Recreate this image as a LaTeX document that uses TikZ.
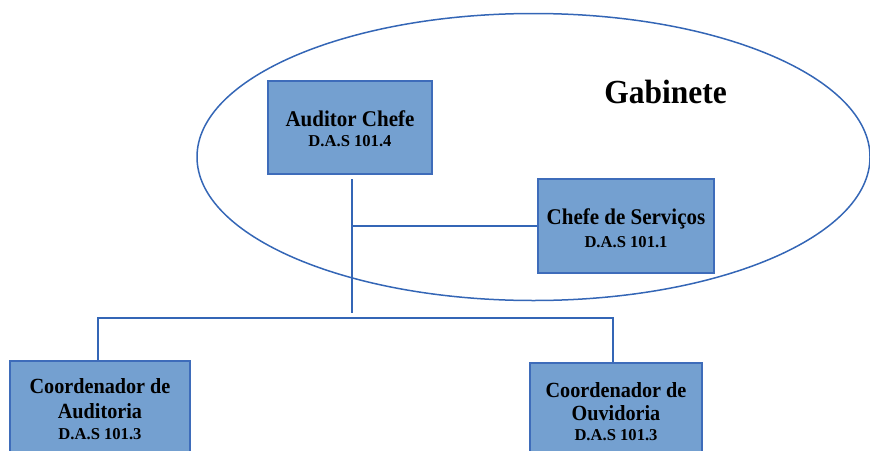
\documentclass[tikz,border=0pt]{standalone}
\usepackage{fontspec}
\setmainfont{Liberation Serif}[BoldFont={Liberation Serif Bold}]
\usetikzlibrary{shapes.geometric}
\definecolor{lineblue}{RGB}{52,102,182}
\definecolor{boxfill}{RGB}{116,160,208}
\definecolor{boxedge}{RGB}{62,108,186}
\tikzset{
  orgbox/.style={draw=boxedge, fill=boxfill, line width=2pt, rectangle, inner sep=0pt},
  conn/.style={draw=lineblue, line width=1.8pt},
  ttl/.style={font=\fontsize{21}{23}\selectfont\bfseries, inner sep=0pt, anchor=base},
  ttlb/.style={font=\fontsize{20.2}{22}\selectfont\bfseries, inner sep=0pt, anchor=base},
  das/.style={font=\fontsize{16.6}{18}\selectfont\bfseries, inner sep=0pt, anchor=base},
}
\newcommand{\tallx}[1]{\scalebox{1}[1.07]{#1}}
\begin{document}
\begin{tikzpicture}[x=1pt,y=-1pt]
\useasboundingbox (0,0) rectangle (870,450);
% ellipse
\node[draw=lineblue, line width=1.5pt, ellipse, minimum width=673pt, minimum height=287pt, inner sep=0pt] (gab) at (533.5,157) {};
\node[font=\fontsize{31.5}{34}\selectfont\bfseries, inner sep=0pt, anchor=base] (gabt) at (665.5,103) {\tallx{Gabinete}};
% boxes
\node[orgbox, minimum width=164pt, minimum height=93pt] (aud) at (350,127.5) {};
\node[ttl] (audt) at (350,126) {\tallx{Auditor Chefe}};
\node[das] (audd) at (350,146.7) {D.A.S 101.4};
\node[orgbox, minimum width=176pt, minimum height=94pt] (chs) at (626,226) {};
\node[ttl] (chst) at (626,224) {\tallx{Chefe de Serviços}};
\node[das] (chsd) at (626,247) {D.A.S 101.1};
\node[orgbox, minimum width=180pt, minimum height=120pt, anchor=north] (coa) at (100,360) {};
\node[ttlb] (coat1) at (100,393) {\tallx{Coordenador de}};
\node[ttlb] (coat2) at (100,418) {\tallx{Auditoria}};
\node[das] (coad) at (100,439) {D.A.S 101.3};
\node[orgbox, minimum width=172pt, minimum height=120pt, anchor=north] (coo) at (616,362) {};
\node[ttlb] (coot1) at (616,397) {\tallx{Coordenador de}};
\node[ttlb] (coot2) at (616,420) {\tallx{Ouvidoria}};
\node[das] (cood) at (616,440) {D.A.S 101.3};
% connectors
\coordinate (vtop) at (352,179);
\coordinate (vbot) at (352,313);
\coordinate (busL) at (98,318);
\coordinate (busR) at (613,318);
\draw[conn] (vtop) -- (vbot);
\draw[conn] (vtop |- chs.west) -- (chs.west);
\draw[conn] (coa.north -| busL) -- (busL) -- (busR) -- (coo.north -| busR);
\end{tikzpicture}
\end{document}
